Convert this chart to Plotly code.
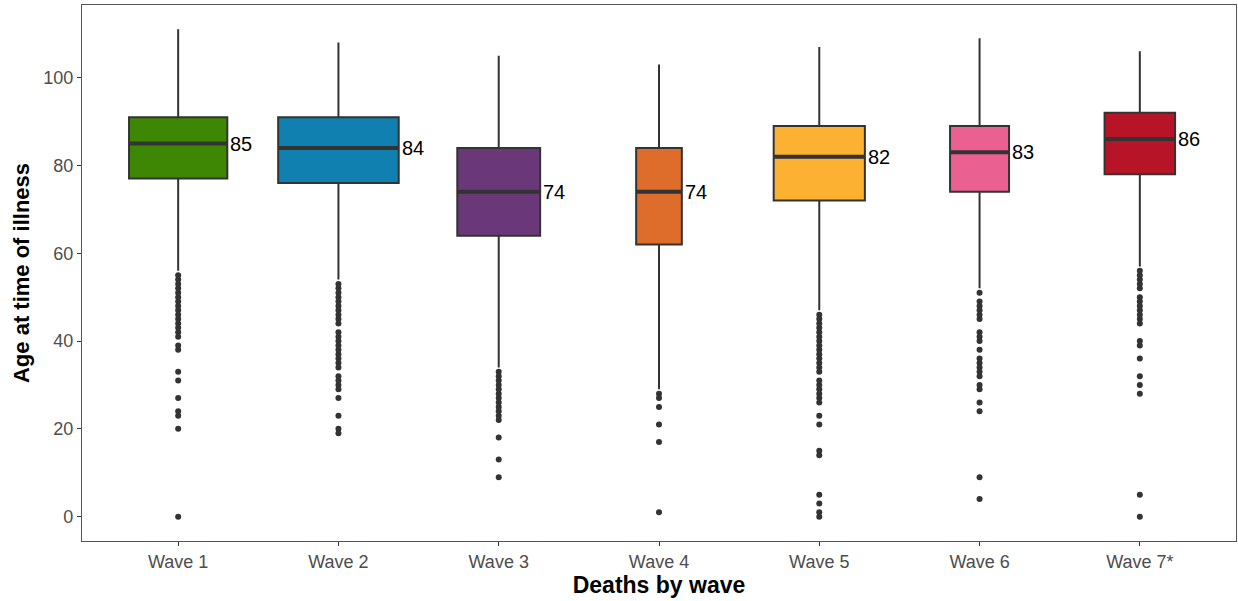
import plotly.graph_objects as go

waves = ["Wave 1", "Wave 2", "Wave 3", "Wave 4", "Wave 5", "Wave 6", "Wave 7*"]
q1 = [77, 76, 64, 62, 72, 74, 78]
median = [85, 84, 74, 74, 82, 83, 86]
q3 = [91, 91, 84, 84, 89, 89, 92]
lower_whisker = [56, 54, 34, 29, 47, 52, 57]
upper_whisker = [111, 108, 105, 103, 107, 109, 106]
# relative box widths (varwidth ~ sqrt(n))
box_width = [0.613, 0.752, 0.517, 0.285, 0.569, 0.368, 0.44]
colors = ["#3E8704", "#1080B0", "#6A3878", "#DE6C2B", "#FCB132", "#E96091", "#B81428"]

outliers = [
    list(range(41, 56)) + [39, 38, 33, 31, 27, 24, 23, 20, 0],
    list(range(44, 54)) + list(range(34, 43)) + [32, 31, 30, 29, 27, 23, 20, 19],
    list(range(22, 34)) + [18, 13, 9],
    [28, 27, 25, 21, 17, 1],
    list(range(33, 47)) + list(range(26, 32)) + [23, 21, 15, 14, 5, 3, 1, 0],
    [51, 49, 48, 47, 46, 45, 42, 41, 40, 38, 36, 35, 34, 33, 32, 30, 29, 26, 24, 9, 4],
    list(range(52, 57)) + list(range(44, 51)) + [40, 39, 36, 32, 30, 28, 5, 0],
]

fig = go.Figure()
dark = "#333333"
font_family = "Liberation Sans, Arial"

for i, w in enumerate(waves):
    fig.add_trace(go.Box(
        x=[i], q1=[q1[i]], median=[median[i]], q3=[q3[i]],
        lowerfence=[lower_whisker[i]], upperfence=[upper_whisker[i]],
        width=box_width[i], fillcolor=colors[i],
        line=dict(color=dark, width=2), whiskerwidth=0,
        boxpoints=False, showlegend=False, hoverinfo="skip",
    ))
    # thick median line
    fig.add_trace(go.Scatter(
        x=[i - box_width[i] / 2, i + box_width[i] / 2], y=[median[i], median[i]],
        mode="lines", line=dict(color=dark, width=4), showlegend=False, hoverinfo="skip",
    ))
    fig.add_trace(go.Scatter(
        x=[i] * len(outliers[i]), y=outliers[i], mode="markers",
        marker=dict(color=dark, size=6), showlegend=False, hoverinfo="skip",
    ))
    fig.add_annotation(
        x=i + box_width[i] / 2, y=median[i], text=str(median[i]),
        xanchor="left", yanchor="middle", xshift=1, showarrow=False,
        font=dict(family=font_family, size=20, color="black"),
    )

fig.update_layout(
    width=1238, height=601,
    margin=dict(l=82, r=2, t=5, b=60),
    paper_bgcolor="white", plot_bgcolor="white",
    font=dict(family=font_family, color="#4D4D4D"),
    boxmode="overlay",
)
fig.update_xaxes(
    range=[-0.6, 6.6], tickmode="array", tickvals=list(range(len(waves))), ticktext=waves,
    showgrid=False, zeroline=False, showline=True, linecolor="#555555", linewidth=1.2, mirror=True,
    ticks="outside", ticklen=4, tickcolor="#333333", tickwidth=1.2,
    tickfont=dict(size=18, color="#4D4D4D"),
    title=dict(text="<b>Deaths by wave</b>", font=dict(size=23, color="black"), standoff=3),
)
fig.update_yaxes(
    range=[-5.55, 116.55], tickmode="array", tickvals=[0, 20, 40, 60, 80, 100],
    showgrid=False, zeroline=False, showline=True, linecolor="#555555", linewidth=1.2, mirror=True,
    ticks="outside", ticklen=4, tickcolor="#333333", tickwidth=1.2,
    tickfont=dict(size=18, color="#4D4D4D"),
    title=dict(text="<b>Age at time of illness</b>", font=dict(size=22, color="black"), standoff=7),
)

fig.write_html("out.html")
